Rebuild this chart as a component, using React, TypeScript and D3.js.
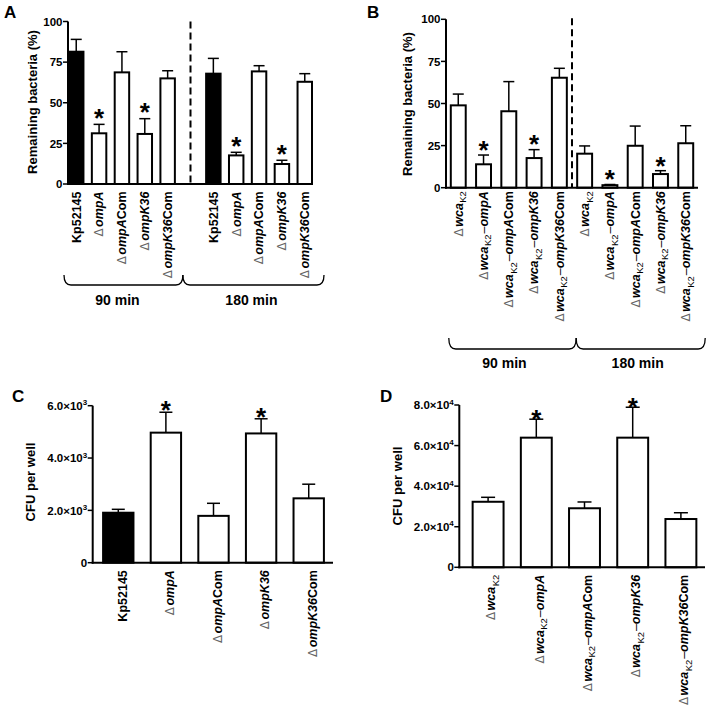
import React from 'react';
import * as d3 from 'd3';

const FONT = '"Liberation Sans", Arial, Helvetica, sans-serif';

// ---------- data ----------
const strainsA = ['Kp52145', 'ΔompA', 'ΔompACom', 'ΔompK36', 'ΔompK36Com'];
const strainsB = ['ΔwcaK2', 'ΔwcaK2–ompA', 'ΔwcaK2–ompACom', 'ΔwcaK2–ompK36', 'ΔwcaK2–ompK36Com'];
const timeGroups = ['90 min', '180 min'];

const a90Mean = [81.4, 31.2, 68.7, 30.8, 65.0];
const a90Sem = [7.6, 5.5, 12.7, 9.4, 4.7];
const a180Mean = [67.9, 17.6, 69.3, 12.3, 62.9];
const a180Sem = [9.4, 1.9, 3.5, 2.3, 5.0];

const b90Mean = [48.9, 13.9, 45.4, 17.6, 65.3];
const b90Sem = [6.7, 5.5, 17.6, 5.0, 5.6];
const b180Mean = [20.2, 1.5, 24.9, 8.1, 26.4];
const b180Sem = [4.6, 0.4, 11.7, 2.0, 10.4];

const cMean = [1910, 4970, 1790, 4940, 2460];
const cSem = [130, 780, 480, 560, 540];

const dMean = [32300, 63900, 29100, 63900, 23800];
const dSem = [2200, 9100, 3100, 15000, 3100];

const significant = [false, true, false, true, false];
const wildType = [true, false, false, false, false];

const pctTicks = [0, 25, 50, 75, 100];
const cTicks = [0, 2000, 4000, 6000];
const dTicks = [0, 20000, 40000, 60000, 80000];

// ---------- helpers ----------
type Seg = { t: string; kind: 'delta' | 'it' | 'up' | 'sub' | 'dash' };

function parseLabel(label: string): Seg[] {
  const out: Seg[] = [];
  let s = label;
  if (s.startsWith('Δ')) {
    out.push({ t: 'Δ', kind: 'delta' });
    s = s.slice(1);
  }
  if (s.startsWith('wcaK2')) {
    out.push({ t: 'wca', kind: 'it' });
    out.push({ t: 'K2', kind: 'sub' });
    s = s.slice(5);
    if (s.startsWith('–')) {
      out.push({ t: '–', kind: 'dash' });
      s = s.slice(1);
    }
  }
  const m = s.match(/^omp(A|K36)/);
  if (m) {
    out.push({ t: m[0], kind: 'it' });
    s = s.slice(m[0].length);
  }
  if (s) out.push({ t: s, kind: 'up' });
  return out;
}

function CatLabel({ label, x, y, size = 12.5 }: { label: string; x: number; y: number; size?: number }) {
  const segs = parseLabel(label);
  const subShift = 3.5;
  let shifted = false;
  return (
    <text
      transform={`translate(${x + size * 0.35},${y}) rotate(-90)`}
      textAnchor="end"
      fontFamily={FONT}
      fontSize={size}
      fontWeight="bold"
    >
      {segs.map((s, i) => {
        let dy: number | undefined = undefined;
        if (s.kind === 'sub') {
          dy = subShift;
        } else if (shifted) {
          dy = -subShift;
        }
        shifted = s.kind === 'sub';
        if (s.kind === 'delta')
          return (
            <tspan key={i} fill="#666" fontWeight="normal" fontFamily='"DejaVu Sans", sans-serif' fontSize={size * 0.95}>
              {s.t}
            </tspan>
          );
        if (s.kind === 'sub')
          return (
            <tspan key={i} dy={dy} dx={0.5} fontWeight="normal" fontSize={size * 0.75}>
              {s.t}
            </tspan>
          );
        if (s.kind === 'dash')
          return (
            <tspan key={i} dy={dy} dx={1} fontWeight="normal">
              {s.t}
            </tspan>
          );
        return (
          <tspan key={i} dy={dy} dx={i === 1 ? 1.5 : undefined} fontStyle={s.kind === 'it' ? 'italic' : 'normal'}>
            {s.t}
          </tspan>
        );
      })}
    </text>
  );
}

function sciTick(v: number, exp: number) {
  if (v === 0) return <tspan>0</tspan>;
  const mant = (v / Math.pow(10, exp)).toFixed(1);
  return (
    <>
      <tspan>{`${mant}×10`}</tspan>
      <tspan dy={-4.5} fontSize={8}>
        {exp}
      </tspan>
    </>
  );
}

function YAxis({
  y,
  x0,
  ticks,
  fmt,
  fontSize = 11.5,
}: {
  y: d3.ScaleLinear<number, number>;
  x0: number;
  ticks: number[];
  fmt: (v: number) => React.ReactNode;
  fontSize?: number;
}) {
  const [d0, d1] = y.domain();
  return (
    <g>
      <line x1={x0} x2={x0} y1={y(d0) + 1} y2={y(d1)} stroke="#000" strokeWidth={2} />
      {ticks.map((t) => (
        <g key={t}>
          <line x1={x0 - 5} x2={x0} y1={y(t)} y2={y(t)} stroke="#000" strokeWidth={1.5} />
          <text
            x={x0 - 5.5}
            y={y(t)}
            dy="0.36em"
            textAnchor="end"
            fontFamily={FONT}
            fontSize={fontSize}
            fontWeight="bold"
          >
            {fmt(t)}
          </text>
        </g>
      ))}
    </g>
  );
}

function BarSet({
  xs,
  bw,
  y,
  means,
  sems,
  fills,
  stars,
  starGap,
  capW,
}: {
  xs: number[];
  bw: number;
  y: d3.ScaleLinear<number, number>;
  means: number[];
  sems: number[];
  fills: boolean[];
  stars: boolean[];
  starGap: number;
  capW: number;
}) {
  const starSize = 26;
  return (
    <g>
      {means.map((m, i) => {
        const x = xs[i];
        const cx = x + bw / 2;
        const top = y(m);
        const base = y(0);
        const et = y(m + sems[i]);
        return (
          <g key={i}>
            <line x1={cx} x2={cx} y1={top} y2={et} stroke="#000" strokeWidth={1.5} />
            <line x1={cx - capW / 2} x2={cx + capW / 2} y1={et} y2={et} stroke="#000" strokeWidth={1.5} />
            <rect
              x={x + 1}
              y={top}
              width={bw - 2}
              height={Math.max(0, base - top)}
              fill={fills[i] ? '#000' : '#fff'}
              stroke="#000"
              strokeWidth={2}
            />
            {stars[i] && (
              <text
                x={cx}
                y={et - starGap + starSize * 0.57}
                textAnchor="middle"
                fontFamily={FONT}
                fontSize={starSize}
                fontWeight="bold"
              >
                *
              </text>
            )}
          </g>
        );
      })}
    </g>
  );
}

function bracePath(x1: number, x2: number, top: number, bottom: number) {
  const r = 7;
  return `M${x1},${top} Q${x1},${bottom} ${x1 + r},${bottom} L${x2 - r},${bottom} Q${x2},${bottom} ${x2},${top}`;
}

function Letter({ t, x, y }: { t: string; x: number; y: number }) {
  return (
    <text x={x} y={y} fontFamily={FONT} fontSize={17} fontWeight="bold">
      {t}
    </text>
  );
}

function YTitle({ t, x, y, size = 13 }: { t: string; x: number; y: number; size?: number }) {
  return (
    <text
      transform={`translate(${x},${y}) rotate(-90)`}
      textAnchor="middle"
      dy="0.35em"
      fontFamily={FONT}
      fontSize={size}
      fontWeight="bold"
    >
      {t}
    </text>
  );
}

// ---------- panels ----------
function PanelA() {
  const keys = [...strainsA.map((s) => '90|' + s), 'gap', ...strainsA.map((s) => '180|' + s)];
  const x = d3.scaleBand<string>().domain(keys).range([68, 313]).paddingInner(0.28).paddingOuter(0);
  const y = d3.scaleLinear().domain([0, 100]).range([184, 21.5]);
  const bw = x.bandwidth();
  const xs90 = strainsA.map((s) => x('90|' + s)!);
  const xs180 = strainsA.map((s) => x('180|' + s)!);
  const dashX = x('gap')! + bw / 2;
  const labelTop = y(0) + 7.5;
  const braces = [
    [xs90[0] - 4, xs90[4] + bw + 7],
    [xs90[4] + bw + 7, xs180[4] + bw + 11],
  ];
  return (
    <g>
      <Letter t="A" x={4} y={18} />
      <YTitle t="Remaining bacteria (%)" x={32} y={102} />
      <BarSet xs={xs90} bw={bw} y={y} means={a90Mean} sems={a90Sem} fills={wildType} stars={significant} starGap={12} capW={11} />
      <BarSet xs={xs180} bw={bw} y={y} means={a180Mean} sems={a180Sem} fills={wildType} stars={significant} starGap={12} capW={11} />
      <line x1={dashX} x2={dashX} y1={y(100)} y2={y(0)} stroke="#000" strokeWidth={2} strokeDasharray="7,4" />
      <YAxis y={y} x0={68} ticks={pctTicks} fmt={(v) => String(v)} />
      <line x1={67} x2={313} y1={y(0)} y2={y(0)} stroke="#000" strokeWidth={2} />
      {strainsA.map((s, i) => (
        <CatLabel key={'a90' + i} label={s} x={xs90[i] + bw / 2} y={labelTop} />
      ))}
      {strainsA.map((s, i) => (
        <CatLabel key={'a180' + i} label={s} x={xs180[i] + bw / 2} y={labelTop} />
      ))}
      {braces.map(([b1, b2], i) => (
        <g key={i}>
          <path d={bracePath(b1, b2, 275, 285)} fill="none" stroke="#000" strokeWidth={1.3} />
          <text x={(b1 + b2) / 2 - (i === 0 ? 6 : 2)} y={305} textAnchor="middle" fontFamily={FONT} fontSize={14} fontWeight="bold">
            {timeGroups[i]}
          </text>
        </g>
      ))}
    </g>
  );
}

function PanelB() {
  const keys = [...strainsB.map((s) => '90|' + s), ...strainsB.map((s) => '180|' + s)];
  const x = d3.scaleBand<string>().domain(keys).range([446, 698]).paddingInner(0.33).paddingOuter(0.15);
  const y = d3.scaleLinear().domain([0, 100]).range([187.7, 19.3]);
  const bw = x.bandwidth();
  const xs90 = strainsB.map((s) => x('90|' + s)!);
  const xs180 = strainsB.map((s) => x('180|' + s)!);
  const dashX = (xs90[4] + bw + xs180[0]) / 2;
  const labelTop = y(0) + 3.5;
  const braces = [
    [xs90[0] - 1, xs180[0]],
    [xs180[0], xs180[4] + bw + 11],
  ];
  return (
    <g>
      <Letter t="B" x={367} y={18} />
      <YTitle t="Remaining bacteria (%)" x={407} y={104} />
      <BarSet xs={xs90} bw={bw} y={y} means={b90Mean} sems={b90Sem} fills={[false, false, false, false, false]} stars={significant} starGap={11} capW={11} />
      <BarSet xs={xs180} bw={bw} y={y} means={b180Mean} sems={b180Sem} fills={[false, false, false, false, false]} stars={significant} starGap={11} capW={11} />
      <line x1={dashX} x2={dashX} y1={y(100) - 1} y2={y(0)} stroke="#000" strokeWidth={2} strokeDasharray="7,4" />
      <YAxis y={y} x0={446} ticks={pctTicks} fmt={(v) => String(v)} />
      <line x1={445} x2={698} y1={y(0)} y2={y(0)} stroke="#000" strokeWidth={2} />
      {strainsB.map((s, i) => (
        <CatLabel key={'b90' + i} label={s} x={xs90[i] + bw / 2} y={labelTop} />
      ))}
      {strainsB.map((s, i) => (
        <CatLabel key={'b180' + i} label={s} x={xs180[i] + bw / 2} y={labelTop} />
      ))}
      {braces.map(([b1, b2], i) => (
        <g key={i}>
          <path d={bracePath(b1, b2, 338, 349)} fill="none" stroke="#000" strokeWidth={1.3} />
          <text x={(b1 + b2) / 2 - (i === 0 ? 8 : 3)} y={368} textAnchor="middle" fontFamily={FONT} fontSize={14} fontWeight="bold">
            {timeGroups[i]}
          </text>
        </g>
      ))}
    </g>
  );
}

function PanelC() {
  const x = d3.scaleBand<string>().domain(strainsA).range([94, 333]).paddingInner(0.32).paddingOuter(0.17);
  const y = d3.scaleLinear().domain([0, 6000]).range([562.7, 405.7]);
  const bw = x.bandwidth();
  const xs = strainsA.map((s) => x(s)!);
  return (
    <g>
      <Letter t="C" x={12} y={402} />
      <YTitle t="CFU per well" x={30} y={482} />
      <BarSet xs={xs} bw={bw} y={y} means={cMean} sems={cSem} fills={wildType} stars={significant} starGap={8} capW={13} />
      <YAxis y={y} x0={92.7} ticks={cTicks} fmt={(v) => sciTick(v, 3)} />
      <line x1={91.7} x2={333} y1={y(0)} y2={y(0)} stroke="#000" strokeWidth={2} />
      {strainsA.map((s, i) => (
        <CatLabel key={'c' + i} label={s} x={xs[i] + bw / 2 + 4} y={y(0) + 7.5} />
      ))}
    </g>
  );
}

function PanelD() {
  const x = d3.scaleBand<string>().domain(strainsB).range([462, 707]).paddingInner(0.317).paddingOuter(0.2);
  const y = d3.scaleLinear().domain([0, 80000]).range([567.3, 405]);
  const bw = x.bandwidth();
  const xs = strainsB.map((s) => x(s)!);
  return (
    <g>
      <Letter t="D" x={380} y={402} />
      <YTitle t="CFU per well" x={397} y={486} />
      <BarSet xs={xs} bw={bw} y={y} means={dMean} sems={dSem} fills={[false, false, false, false, false]} stars={significant} starGap={6} capW={14} />
      <YAxis y={y} x0={459.3} ticks={dTicks} fmt={(v) => sciTick(v, 4)} />
      <line x1={458.3} x2={705} y1={y(0)} y2={y(0)} stroke="#000" strokeWidth={2} />
      {strainsB.map((s, i) => (
        <CatLabel key={'d' + i} label={s} x={xs[i] + bw / 2 + 3} y={y(0) + 7.5} />
      ))}
    </g>
  );
}

export default function App() {
  return (
    <svg
      width={713}
      height={724}
      viewBox="0 0 713 724"
      style={{ position: 'absolute', left: 0, top: 0, background: '#fff' }}
    >
      <rect width={713} height={724} fill="#fff" />
      <PanelA />
      <PanelB />
      <PanelC />
      <PanelD />
    </svg>
  );
}
